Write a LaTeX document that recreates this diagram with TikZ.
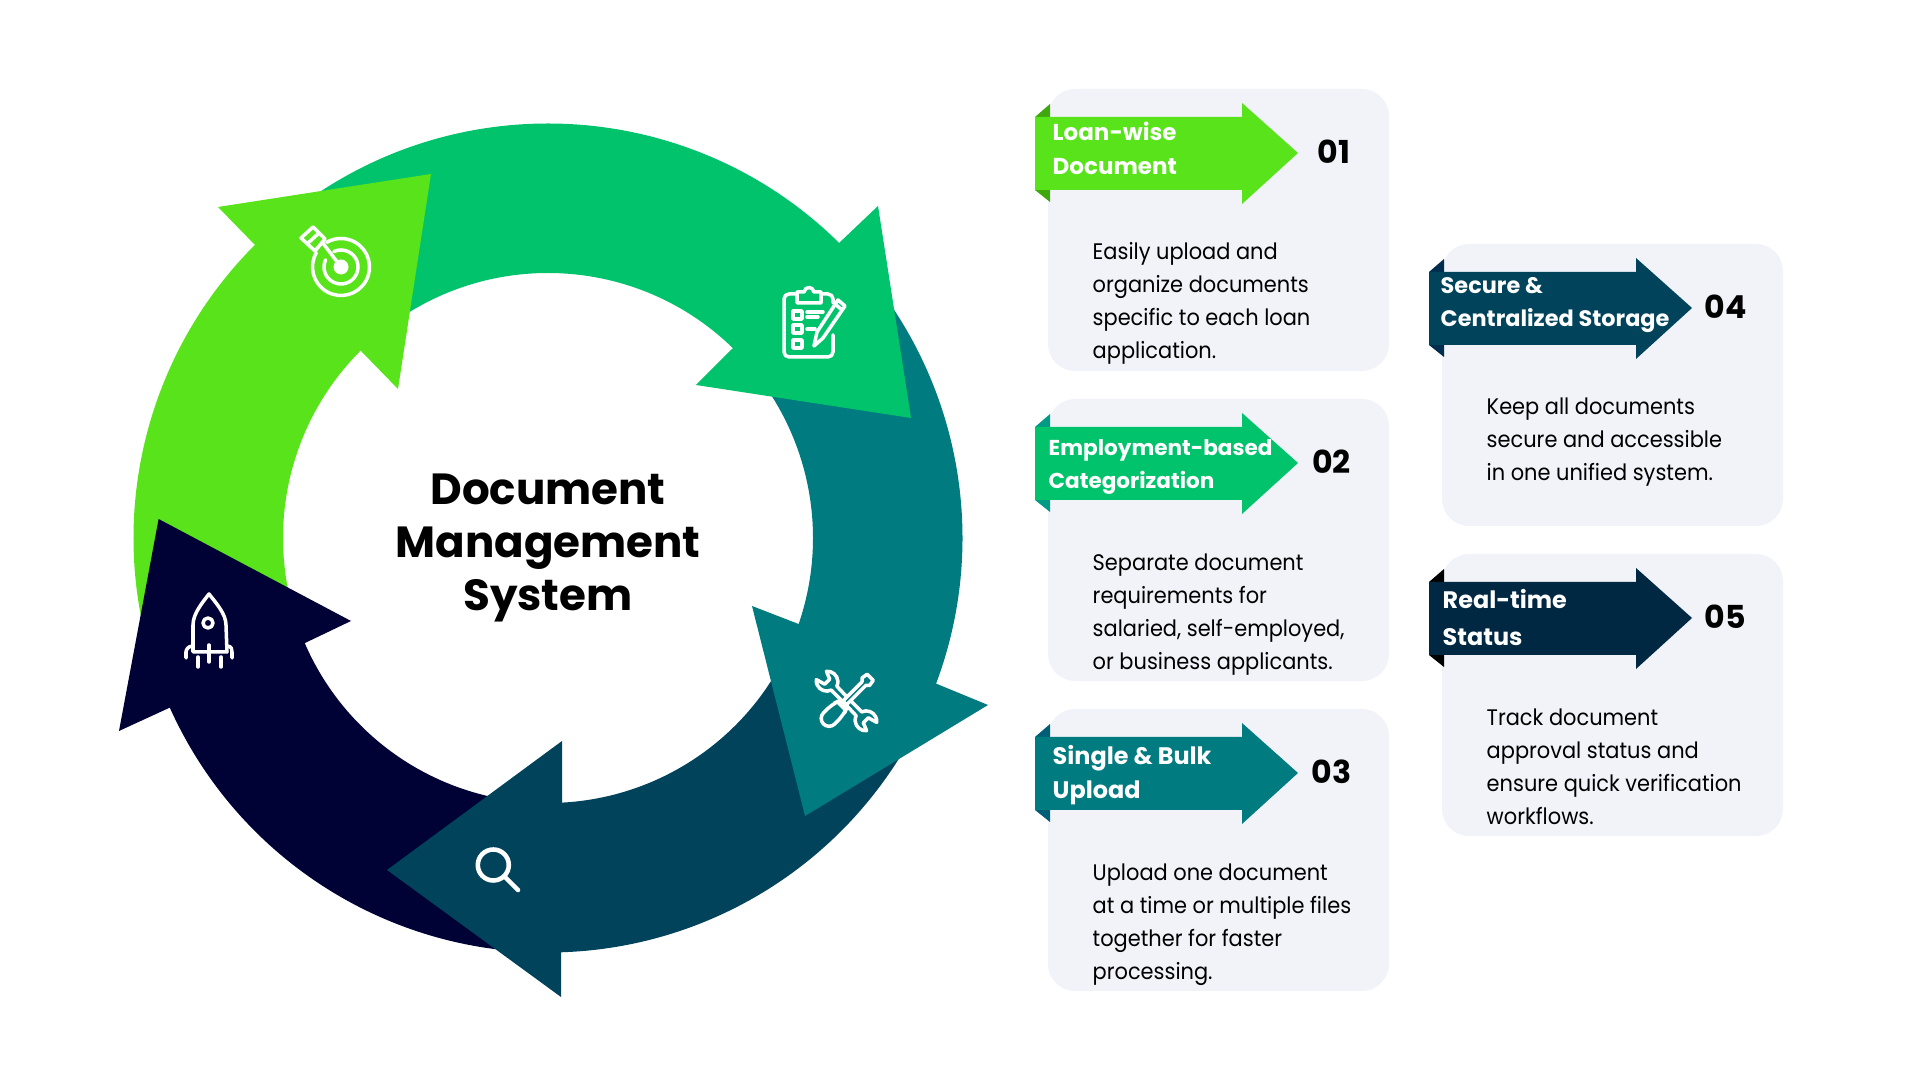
\documentclass[tikz,border=0pt]{standalone}
\usepackage{fontspec}
\setmainfont{Poppins}
\newfontfamily\bodyfont[FakeStretch=0.93]{Poppins}
\definecolor{cLime}{HTML}{58E31A}
\definecolor{cGreen}{HTML}{00C36B}
\definecolor{cTeal}{HTML}{007B80}
\definecolor{cSea}{HTML}{01435B}
\definecolor{cNavy}{HTML}{000236}
\definecolor{cDeep}{HTML}{002843}
\definecolor{cCard}{HTML}{F1F3F9}
\definecolor{foldLime}{HTML}{3FA80F}
\definecolor{foldGreen}{HTML}{009A85}
\definecolor{foldTeal}{HTML}{005F76}
\definecolor{foldSea}{HTML}{012E4F}
\tikzset{
	icon/.style={draw=white,line width=1pt,line cap=round,line join=round},
	cardtitle/.style={font=\bfseries\fontsize{6.55}{9.9}\selectfont,text=white,align=left,anchor=base west,inner sep=0pt},
	cardtext/.style={font=\bodyfont\fontsize{6.4}{9.4}\selectfont,align=left,anchor=base west,inner sep=0pt},
	cardnum/.style={font=\bfseries\fontsize{9}{10}\selectfont,inner sep=0pt},
}
% card background with its banner, #1 banner colour, #2 fold colour
\newcommand{\cardbase}[2]{
	\fill[cCard,rounded corners=0.27cm] (0,0) rectangle (3.41,-2.82);
	\fill[#2] (-0.13,-0.28) -- (0.02,-0.15) -- (0.02,-0.28) -- cycle;
	\fill[#2] (-0.13,-1.01) -- (0.02,-1.13) -- (0.02,-1.01) -- cycle;
	\fill[#1] (-0.13,-0.28) -- (1.94,-0.28) -- (1.94,-0.14) -- (2.50,-0.64)
	-- (1.94,-1.15) -- (1.94,-1.01) -- (-0.13,-1.01) -- cycle;
}

\begin{document}
\begin{tikzpicture}
\useasboundingbox (0,0) rectangle (19.2,10.8);
%========================================
% LEFT: ring of five arrows
%========================================
\begin{scope}[shift={(5.48,5.42)}]
	% Bodies
	\foreach \col/\from/\to in {cLime/197/134,cGreen/128/44,cTeal/40/-21,cSea/-25/-89,cNavy/-92/-157}
	\fill[\col] (\from:4.145) arc (\from:\to:4.145) -- (\to:2.65) arc (\to:\from:2.65) -- cycle;
\end{scope}
% Heads
\fill[cLime] (2.56,8.34) -- (2.18,8.73) -- (4.31,9.06) -- (3.98,6.91) -- (3.61,7.29) -- cycle;
\fill[cGreen] (8.38,8.36) -- (8.78,8.74) -- (9.11,6.62) -- (6.96,6.95) -- (7.32,7.31) -- cycle;
\fill[cTeal] (9.37,3.96) -- (9.88,3.75) -- (8.05,2.64) -- (7.52,4.74) -- (7.985,4.56) -- cycle;
\fill[cSea] (5.61,1.29) -- (5.61,0.83) -- (3.87,2.10) -- (5.62,3.39) -- (5.62,2.78) -- cycle;
\fill[cNavy] (1.69,3.72) -- (1.19,3.49) -- (1.586,5.61) -- (3.51,4.59) -- (3.05,4.37) -- cycle;
% Centre
\node[font=\bfseries\fontsize{12.4}{15.1}\selectfont,align=center,anchor=base,inner sep=0pt] (title) at (5.48,4.69) {Document\\Management\\System};

%========================================
% ICONS
%========================================
% Target
\begin{scope}[shift={(3.41,8.13)}]
	\draw[icon] (150:.285) arc (150:480:.285);
	\draw[icon] (155:.17) arc (155:475:.17);
	\fill[white] (0,0) circle (.075);
	\draw[icon] (0,0) -- (-.19,.25);
	\draw[icon] (-.40,.29) -- (-.28,.40) -- (-.16,.28) -- (-.26,.16) -- cycle;
	\draw[icon] (-.34,.23) -- (-.22,.34);
\end{scope}
% Clipboard
\draw[icon,rounded corners=.05cm] (7.95,7.86) -- (7.84,7.86) -- (7.84,7.23) -- (8.33,7.23) -- (8.33,7.45);
\draw[icon,rounded corners=.05cm] (8.23,7.86) -- (8.33,7.86) -- (8.33,7.77);
\draw[icon] (7.97,7.77) -- (7.97,7.88) -- (8.04,7.88) .. controls (8.05,7.94) and (8.13,7.94) .. (8.14,7.88) -- (8.21,7.88) -- (8.21,7.77) -- cycle;
\foreach \y in {7.61,7.47,7.32}
\draw[icon] (7.93,\y) rectangle (8.02,\y+.08);
\draw[icon] (8.07,7.68) -- (8.23,7.68);
\draw[icon] (8.07,7.63) -- (8.18,7.63);
\draw[icon] (8.07,7.51) -- (8.15,7.51);
\draw[icon] (8.14,7.34) -- (8.17,7.48) -- (8.38,7.80) -- (8.45,7.74) -- (8.23,7.42) -- cycle;
\draw[icon] (8.35,7.76) -- (8.42,7.70);
% Tools
\begin{scope}[shift={(8.465,3.79)},rotate=-45,scale=.88]
	\foreach \r in {0,180}
	\draw[icon,rotate=\r] (0,.035) -- (.21,.035) arc (160:40:.12) -- (.31,.04) -- (.31,-.04) -- (.40,-.077) arc (-40:-160:.12) -- (0,-.035);
\end{scope}
\begin{scope}[shift={(8.465,3.79)},rotate=45,scale=.88]
	\draw[icon,fill=cTeal] (-.03,.03) -- (.28,.03) -- (.31,.06) -- (.38,.05) -- (.38,-.05) -- (.31,-.06) -- (.28,-.03) -- (-.03,-.03);
	\draw[icon,fill=cTeal,rounded corners=.08cm] (-.03,.05) -- (-.03,-.05) -- (-.14,-.09) -- (-.37,-.09) -- (-.37,.09) -- (-.14,.09) -- cycle;
	\draw[icon] (-.08,.07) -- (-.08,-.07);
\end{scope}
% Magnifier
\draw[icon,line width=1.3pt] (4.933,2.15) circle (.155);
\draw[icon,line width=1.3pt] (5.05,2.03) -- (5.18,1.90);
% Rocket
\draw[icon] (1.93,4.28) -- (1.93,4.55) .. controls (1.93,4.66) and (2.02,4.77) .. (2.09,4.86) .. controls (2.16,4.77) and (2.26,4.66) .. (2.26,4.55) -- (2.27,4.28) -- cycle;
\draw[icon] (2.08,4.57) circle (.05);
\draw[icon] (1.93,4.34) .. controls (1.88,4.34) and (1.86,4.30) .. (1.86,4.28) -- (1.86,4.22);
\draw[icon] (2.27,4.34) .. controls (2.32,4.34) and (2.32,4.30) .. (2.32,4.28) -- (2.32,4.22);
\draw[icon] (2.09,4.35) -- (2.09,4.18);
\draw[icon] (1.98,4.23) -- (1.98,4.13);
\draw[icon] (2.21,4.23) -- (2.21,4.13);

%========================================
% RIGHT: cards
%========================================
\begin{scope}[shift={(10.48,9.91)}]
	\cardbase{cLime}{foldLime}
	\node[cardtitle] (titleA) at (0.04,-0.86) {Loan-wise\\Document};
	\node[cardnum] (numA) at (2.86,-0.63) {01};
	\node[cardtext] (textA) at (0.44,-2.70) {Easily upload and\\organize documents\\specific to each loan\\application.};
\end{scope}
\begin{scope}[shift={(10.48,6.81)}]
	\cardbase{cGreen}{foldGreen}
	\node[cardtitle,font=\bfseries\fontsize{6.13}{9.4}\selectfont] (titleB) at (0,-0.90) {Employment-based\\Categorization};
	\node[cardnum] (numB) at (2.835,-0.63) {02};
	\node[cardtext] (textB) at (0.44,-2.71) {Separate document\\requirements for\\salaried, self-employed,\\or business applicants.};
\end{scope}
\begin{scope}[shift={(10.48,3.71)}]
	\cardbase{cTeal}{foldTeal}
	\node[cardtitle,font=\bfseries\fontsize{6.8}{9.9}\selectfont] (titleC) at (0.04,-0.90) {Single \& Bulk\\Upload};
	\node[cardnum] (numC) at (2.835,-0.63) {03};
	\node[cardtext] (textC) at (0.44,-2.71) {Upload one document\\at a time or multiple files\\together for faster\\processing.};
\end{scope}
\begin{scope}[shift={(14.42,8.36)}]
	\cardbase{cSea}{foldSea}
	\node[cardtitle,font=\bfseries\fontsize{6.37}{9.6}\selectfont] (titleD) at (-0.02,-0.83) {Secure \&\\Centralized Storage};
	\node[cardnum] (numD) at (2.835,-0.625) {04};
	\node[cardtext] (textD) at (0.44,-2.365) {Keep all documents\\secure and accessible\\in one unified system.};
\end{scope}
\begin{scope}[shift={(14.42,5.26)}]
	\cardbase{cDeep}{black}
	\node[cardtitle,font=\bfseries\fontsize{6.8}{10.5}\selectfont] (titleE) at (0,-0.915) {Real-time\\Status};
	\node[cardnum] (numE) at (2.835,-0.63) {05};
	\node[cardtext] (textE) at (0.44,-2.71) {Track document\\approval status and\\ensure quick verification\\workflows.};
\end{scope}
\end{tikzpicture}
\end{document}
